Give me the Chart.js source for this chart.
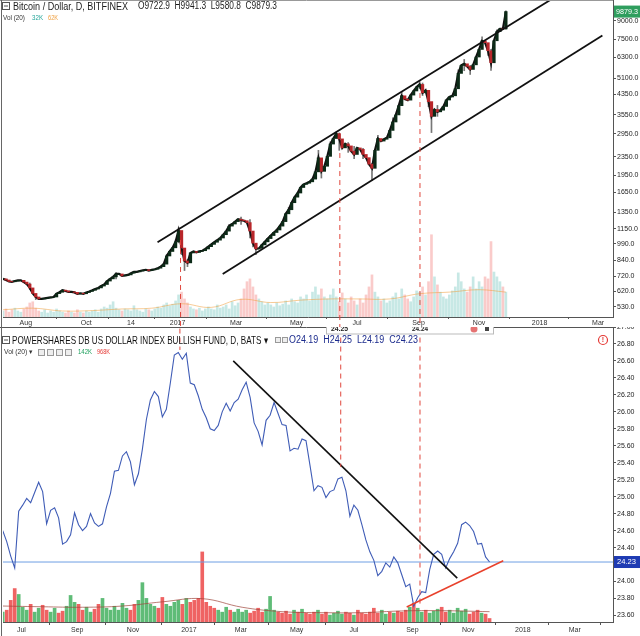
<!DOCTYPE html>
<html><head><meta charset="utf-8">
<script src="https://cdn.jsdelivr.net/npm/chart.js@4.4.1/dist/chart.umd.min.js"></script>
<style>
html,body{margin:0;padding:0;background:#fff;}
#wrap{position:relative;width:640px;height:636px;overflow:hidden;background:#fff;}
#c1{position:absolute;left:0;top:0;}
#c2{position:absolute;left:0;top:327px;}
</style></head><body>
<div id="wrap"><canvas id="c1" width="640" height="327"></canvas><canvas id="c2" width="640" height="309"></canvas></div>
<script>
// ================= DATA: Bitcoin / Dollar (top panel) =================
const btcStartDay = -176;   // days from 2017-01-01 of first sample
const btcStepDays = 3;      // days between samples
const btcClose = [
 700,692,682,680,685,690,690,678,665,640,
 606,585,574,574,577,580,583,585,605,613,
 626,621,615,615,612,603,607,604,612,618,
 625,633,640,652,662,685,700,714,735,735,
 721,725,728,740,750,750,757,762,766,760,
 765,770,778,790,810,878,918,952,1010,1130,
 950,836,820,905,918,910,920,925,941,963,
 985,1006,1027,1049,1084,1123,1180,1205,1234,1264,
 1252,1245,1222,1124,997,942,947,980,1010,1043,
 1075,1108,1136,1180,1234,1333,1388,1488,1572,1638,
 1730,1785,1805,1830,1880,2020,2320,2030,2135,2355,
 2660,2810,2950,2800,2562,2665,2612,2480,2400,2560,
 2525,2400,2325,2180,2092,2500,2810,2740,2790,2830,
 3045,3310,3550,3890,4290,4150,4110,4320,4500,4680,
 4800,4420,4530,4050,3500,3745,3660,3720,3860,4115,
 4240,4290,4600,5355,5800,5890,5740,5570,5830,6300,
 6790,7390,7260,6700,5950,7400,8100,8330,8320,9879.3
];
// [sample index, low, high]
const btcWicks = [
 [9,630,672],[11,570,600],[38,700,745],[55,860,890],[58,990,1030],[59,1000,1160],
 [60,890,1100],[61,760,900],[62,790,850],[76,1150,1200],[80,1200,1290],[83,1050,1260],
 [84,960,1080],[85,890,990],[96,1350,1420],[106,2100,2500],[107,1900,2280],[110,2550,2720],
 [112,2850,3000],[113,2500,2970],[116,2450,2700],[118,2300,2600],[121,2300,2550],[124,1850,2200],
 [126,2600,2900],[131,3150,3450],[134,4050,4450],[140,4600,4950],[141,4300,4870],[143,3850,4250],
 [144,2980,3800],[146,3500,3900],[153,5000,5550],[155,5500,6150],[157,5300,5800],[161,7100,7700],
 [163,6400,7100],[164,5520,6800],[166,7700,8250],[169,8300,9941.3]
];
const btcVolume = [ // thousands
 15,20,12,18,22,15,12,20,25,35,
 38,22,15,12,18,10,15,12,20,15,
 12,10,15,12,10,18,12,10,15,12,
 15,18,12,20,25,22,30,38,22,18,
 15,20,18,15,28,18,15,12,20,18,
 15,20,25,22,30,35,28,32,40,55,
 62,45,35,25,20,18,22,15,20,25,
 20,18,30,22,25,30,20,38,28,35,
 45,70,88,95,75,55,45,38,30,35,
 30,25,35,28,32,40,30,45,38,35,
 50,45,55,40,62,75,55,70,50,45,
 55,70,50,38,60,45,35,50,40,30,
 45,35,55,75,105,62,50,40,45,35,
 40,50,60,45,70,55,45,38,50,65,
 62,75,55,88,205,100,80,62,50,45,
 55,65,75,110,88,70,62,75,100,70,
 88,75,100,95,188,112,100,88,75,62
];
const btcVolumeMA = [[0,18],[10,22],[20,15],[30,16],[40,20],[50,22],[60,33],[70,24],[80,44],[90,36],
 [100,42],[110,45],[120,45],[130,45],[140,58],[150,62],[160,68],[169,62]];
const btcTickDays = [-153,-92,-47,0,59,120,181,243,304,365,424];
const btcTickLabels = ['Aug','Oct','14','2017','Mar','May','Jul','Sep','Nov','2018','Mar'];
const btcPriceTicks = [530,620,720,840,990,1150,1350,1650,1950,2350,2950,3550,4350,5100,6300,7500,9000];
const btcChannelUpper = [[-20.2,1005],[375.8,11080]];
const btcChannelLower = [[45.5,734],[428.3,7797]];
const btcMarkers = [[3,1029],[163.6,2434],[244.4,4409]];

// ================= DATA: PowerShares DB US Dollar Index Bullish (bottom panel) =================
const uupStartT = -140;  // trading days from 2017-01-03 of first sample
const uupStepT = 3;
const uupClose = [
 24.60,24.47,24.30,24.16,24.83,24.90,24.98,24.93,25.05,25.17,
 25.06,24.68,24.84,24.87,24.75,24.44,24.47,24.55,24.81,24.67,
 24.60,24.65,24.80,24.69,24.65,24.68,24.88,25.04,25.30,25.31,
 25.48,25.53,25.41,25.14,25.27,25.56,25.91,26.14,26.24,26.18,
 25.94,26.03,26.34,26.67,26.70,26.62,26.69,26.34,26.32,26.19,
 26.03,25.93,25.80,25.78,25.84,26.00,26.10,26.01,26.11,26.15,
 26.26,26.35,26.17,25.87,25.77,25.61,25.90,25.96,26.11,25.98,
 25.85,25.84,25.54,25.57,25.56,25.68,25.66,25.37,25.07,25.13,
 25.11,24.99,25.06,25.08,25.21,25.23,25.07,24.77,24.90,24.84,
 24.67,24.49,24.35,24.25,24.07,24.12,24.22,24.17,24.29,24.22,
 24.08,23.94,23.97,23.71,23.81,23.88,23.87,24.14,24.32,24.36,
 24.32,24.16,24.27,24.35,24.45,24.67,24.70,24.66,24.59,24.44,
 24.45,24.29,24.23
];
const uupVolume = [ // thousands
 400,480,880,1360,1120,600,480,720,400,560,
 680,480,400,560,360,440,640,1080,800,720,
 480,600,400,520,720,960,560,480,640,480,
 760,560,480,720,880,1600,960,720,640,560,
 1000,720,640,800,880,720,960,800,880,960,
 2850,800,640,560,480,400,600,480,400,520,
 400,480,360,440,560,400,520,1040,480,400,
 360,440,320,480,400,520,360,320,400,480,
 320,400,280,360,440,320,400,360,280,480,
 360,320,400,560,360,480,320,400,360,440,
 400,480,600,760,560,400,480,360,440,520,
 600,400,480,360,560,440,520,320,400,480,
 360,320,142
];
const uupVolumeMA = [[0,650],[10,620],[20,600],[30,650],[40,820],[50,950],[60,600],[70,420],[80,380],[90,380],[100,450],[110,460],[122,420]];
const uupTickT = [-126,-84,-42,0,39,81,124,168,210,251,290];
const uupTickLabels = ['Jul','Sep','Nov','2017','Mar','May','Jul','Sep','Nov','2018','Mar'];
const uupPriceTicks = [23.6,23.8,24.0,24.2,24.4,24.6,24.8,25.0,25.2,25.4,25.6,25.8,26.0,26.2,26.4,26.6,26.8,27.0];
const uupLast = 24.23;
const uupTrendDown = [[33.3,26.60],[201.7,24.04]];
const uupTrendUp = [[163.7,23.70],[236.3,24.245]];
const uupMarkers = [[-6.8,26.73],[114.1,25.35],[173.7,23.70]];

// ================= RENDERING =================
const FONT = "'Liberation Sans', Arial, sans-serif";
Chart.defaults.font.family = FONT;
Chart.defaults.color = '#222';

function fitText(ctx, txt, x, y, w, font, color) {
  ctx.save();
  ctx.font = font; ctx.fillStyle = color; ctx.textBaseline = 'middle'; ctx.textAlign = 'left';
  const m = ctx.measureText(txt).width || 1;
  ctx.translate(x, y); ctx.scale(w / m, 1);
  ctx.fillText(txt, 0, 0);
  ctx.restore();
}
function minusBox(ctx, x, y, s) {
  ctx.save(); ctx.strokeStyle = '#555'; ctx.lineWidth = 1;
  ctx.strokeRect(x + 0.5, y + 0.5, s, s);
  ctx.beginPath(); ctx.moveTo(x + 2, y + 0.5 + s / 2); ctx.lineTo(x + s - 1, y + 0.5 + s / 2); ctx.stroke();
  ctx.restore();
}
function smallBox(ctx, x, y, s) {
  ctx.save(); ctx.strokeStyle = '#999'; ctx.lineWidth = 1; ctx.fillStyle = '#eee';
  ctx.fillRect(x + 0.5, y + 0.5, s, s); ctx.strokeRect(x + 0.5, y + 0.5, s, s); ctx.restore();
}
const pts = arr => arr.map(p => ({x: p[0], y: p[1]}));

// ---- top panel datasets
const btcDays = btcClose.map((_, i) => btcStartDay + i * btcStepDays);
const btcUp = btcClose.map((c, i) => i === 0 || c >= btcClose[i - 1]);
const btcBodies = btcClose.map((c, i) => ({x: btcDays[i], y: [i ? btcClose[i - 1] : c, c]}));
const btcWickData = btcWicks.map(w => ({x: btcDays[w[0]], y: [w[1], w[2]]}));
const btcVolData = btcVolume.map((v, i) => ({x: btcDays[i], y: v}));
const btcVolMAData = btcVolumeMA.map(p => ({x: btcDays[p[0]], y: p[1]}));
const btcMin = 479.8, btcMax = 11080, btcBelow = 430;

const dashStyle = {type: 'line', borderColor: '#e0473d', borderWidth: 1, borderDash: [5, 4], pointRadius: 0, clip: false, order: 2};

const topPlugin = {
  id: 'topDecor',
  afterDraw(chart) {
    const ctx = chart.ctx;
    ctx.save();
    ctx.strokeStyle = '#999'; ctx.lineWidth = 1;
    ctx.beginPath(); ctx.moveTo(0, 0.5); ctx.lineTo(613, 0.5); ctx.stroke();
    ctx.strokeStyle = '#666';
    ctx.beginPath(); ctx.moveTo(1.5, 0); ctx.lineTo(1.5, 327); ctx.stroke();
    ctx.restore();
    minusBox(ctx, 2, 2, 7);
    fitText(ctx, 'Bitcoin / Dollar, D, BITFINEX', 13, 6.5, 115, '11px ' + FONT, '#1c1c1c');
    fitText(ctx, 'O9722.9  H9941.3  L9580.8  C9879.3', 138, 6.5, 139, '10px ' + FONT, '#1c1c1c');
    fitText(ctx, 'Vol (20)', 3, 18.5, 22, '7px ' + FONT, '#333');
    fitText(ctx, '32K', 32, 18.5, 11, '7px ' + FONT, '#26a69a');
    fitText(ctx, '62K', 48, 18.5, 10, '7px ' + FONT, '#f0a040');
    const ys = chart.scales.y;
    const py = ys.getPixelForValue(btcClose[btcClose.length - 1]);
    ctx.save();
    ctx.fillStyle = '#2f9e5e'; ctx.fillRect(614, py - 6, 26, 12);
    ctx.restore();
    fitText(ctx, btcClose[btcClose.length - 1].toFixed(1), 616, py + 0.5, 22, '7px ' + FONT, '#fff');
  }
};

new Chart(document.getElementById('c1'), {
  type: 'line',
  data: {
    datasets: [
      {type: 'bar', data: btcVolData, yAxisID: 'yv', grouped: false, barThickness: 2,
       backgroundColor: btcUp.map(u => u ? 'rgba(38,166,154,0.26)' : 'rgba(239,83,80,0.30)'), order: 10},
      {type: 'line', data: btcVolMAData, yAxisID: 'yv', borderColor: 'rgba(240,160,64,0.55)', borderWidth: 1,
       pointRadius: 0, tension: 0.4, order: 9},
      {type: 'bar', data: btcWickData, yAxisID: 'y', grouped: false, barThickness: 1, backgroundColor: '#777', order: 6},
      {type: 'line', data: btcBodies.map(b => ({x: b.x, y: b.y[1]})), yAxisID: 'y', borderColor: '#111',
       borderWidth: 2.2, pointRadius: 0, tension: 0, order: 5},
      {type: 'bar', data: btcBodies, yAxisID: 'y', grouped: false, barThickness: 2.6, borderSkipped: false,
       backgroundColor: btcUp.map(u => u ? '#0c2a17' : '#b8262a'), order: 4},
      {type: 'line', data: pts(btcChannelUpper), yAxisID: 'y', borderColor: '#111', borderWidth: 1.8, pointRadius: 0, order: 3},
      {type: 'line', data: pts(btcChannelLower), yAxisID: 'y', borderColor: '#111', borderWidth: 1.8, pointRadius: 0, order: 3},
      ...btcMarkers.map(m => Object.assign({}, dashStyle, {yAxisID: 'y', data: [{x: m[0], y: m[1]}, {x: m[0], y: btcBelow}]}))
    ]
  },
  options: {
    responsive: false, animation: false, devicePixelRatio: 1,
    layout: {padding: {left: 3, right: 0, top: 0, bottom: 0}},
    plugins: {legend: {display: false}, tooltip: {enabled: false}},
    scales: {
      x: {type: 'linear', min: -176, max: 439, offset: false,
        afterBuildTicks: s => { s.ticks = btcTickDays.map(v => ({value: v})); },
        afterFit: s => { s.height = 10; s.paddingLeft = 0; s.paddingRight = 0; },
        ticks: {autoSkip: false, maxRotation: 0, padding: 0, font: {size: 7}, color: '#333',
          callback: v => { const k = btcTickDays.indexOf(v); return k >= 0 ? btcTickLabels[k] : ''; }},
        grid: {drawOnChartArea: false, drawTicks: true, tickLength: 2, color: '#555'},
        border: {display: true, color: '#555', width: 1}},
      y: {type: 'logarithmic', position: 'right', min: btcMin, max: btcMax,
        afterBuildTicks: s => { s.ticks = btcPriceTicks.map(v => ({value: v})); },
        afterFit: s => { s.width = 27; s.paddingTop = 0; s.paddingBottom = 0; },
        ticks: {autoSkip: false, padding: 1, font: {size: 7}, color: '#222', callback: v => Number(v).toFixed(1)},
        grid: {drawOnChartArea: false, drawTicks: true, tickLength: 3, color: '#555'},
        border: {display: true, color: '#555', width: 1}},
      yv: {type: 'linear', display: false, min: 0, max: 790}
    }
  },
  plugins: [topPlugin]
});

// ---- bottom panel datasets
const uupT = uupClose.map((_, j) => uupStartT + j * uupStepT);
const uupUp = uupClose.map((c, j) => j === 0 || c >= uupClose[j - 1]);
const uupLineData = uupClose.map((c, j) => ({x: uupT[j], y: c}));
const uupVolData = uupVolume.map((v, j) => ({x: uupT[j], y: v}));
const uupVolMAData = uupVolumeMA.map(p => ({x: uupT[p[0]], y: p[1]}));
const uupXMin = -139.8, uupXMax = 318.8, uupYMin = 23.523, uupYMax = 27.0;

const botPlugin = {
  id: 'botDecor',
  afterDraw(chart) {
    const ctx = chart.ctx;
    ctx.save();
    ctx.strokeStyle = '#555'; ctx.lineWidth = 1;
    ctx.beginPath(); ctx.moveTo(0, 0.5); ctx.lineTo(613, 0.5); ctx.stroke();
    ctx.strokeStyle = '#666';
    ctx.beginPath(); ctx.moveTo(1.5, 0); ctx.lineTo(1.5, 309); ctx.stroke();
    ctx.restore();
    // floating data box
    ctx.save();
    ctx.fillStyle = '#fff'; ctx.fillRect(326, 0, 167, 7);
    ctx.strokeStyle = '#bbb'; ctx.lineWidth = 1; ctx.strokeRect(326.5, -2, 167, 9);
    ctx.restore();
    fitText(ctx, '24.25', 331, 2, 17, 'bold 8px ' + FONT, '#222');
    fitText(ctx, '24.24', 412, 2, 16, 'bold 8px ' + FONT, '#222');
    ctx.save();
    ctx.fillStyle = '#e57373'; ctx.beginPath(); ctx.arc(474, 2, 3.5, 0, Math.PI * 2); ctx.fill();
    ctx.fillStyle = '#444'; ctx.fillRect(485, 0, 4, 4);
    ctx.restore();
    // header
    minusBox(ctx, 2, 9, 7);
    fitText(ctx, 'POWERSHARES DB US DOLLAR INDEX BULLISH FUND, D, BATS \u25BE', 12, 13.5, 256, '11px ' + FONT, '#111');
    smallBox(ctx, 275, 10, 5); smallBox(ctx, 282, 10, 5);
    fitText(ctx, 'O24.19  H24.25  L24.19  C24.23', 289, 13.5, 129, '10px ' + FONT, '#1a2a8c');
    fitText(ctx, 'Vol (20) \u25BE', 4, 25.5, 29, '7px ' + FONT, '#333');
    smallBox(ctx, 38, 22, 6); smallBox(ctx, 47, 22, 6); smallBox(ctx, 56, 22, 6); smallBox(ctx, 65, 22, 6);
    fitText(ctx, '142K', 78, 25.5, 14, '7px ' + FONT, '#1b9e5a');
    fitText(ctx, '968K', 97, 25.5, 13, '7px ' + FONT, '#e53935');
    // alert icon
    ctx.save();
    ctx.strokeStyle = '#e53935'; ctx.lineWidth = 1.2;
    ctx.beginPath(); ctx.arc(603, 13, 4.5, 0, Math.PI * 2); ctx.stroke();
    ctx.fillStyle = '#e53935'; ctx.font = 'bold 7px ' + FONT; ctx.textAlign = 'center'; ctx.textBaseline = 'middle';
    ctx.fillText('!', 603, 13.5);
    ctx.restore();
    // last value box
    const py = chart.scales.y.getPixelForValue(uupLast);
    ctx.save(); ctx.fillStyle = '#1e3bb3'; ctx.fillRect(614, py - 6, 26, 12); ctx.restore();
    fitText(ctx, uupLast.toFixed(2), 617, py + 0.5, 19, '7px ' + FONT, '#fff');
  }
};

new Chart(document.getElementById('c2'), {
  type: 'line',
  data: {
    datasets: [
      {type: 'bar', data: uupVolData, yAxisID: 'yv', grouped: false, barThickness: 3,
       backgroundColor: uupUp.map(u => u ? 'rgba(67,176,95,0.85)' : 'rgba(236,72,72,0.85)'), order: 10},
      {type: 'line', data: uupVolMAData, yAxisID: 'yv', borderColor: 'rgba(160,70,60,0.7)', borderWidth: 1,
       pointRadius: 0, tension: 0.4, order: 9},
      {type: 'line', data: [{x: uupXMin, y: uupLast}, {x: uupXMax, y: uupLast}], yAxisID: 'y',
       borderColor: '#6e9fe3', borderWidth: 1, pointRadius: 0, order: 7},
      {type: 'line', data: uupLineData, yAxisID: 'y', borderColor: '#3f5cb6', borderWidth: 1.1,
       pointRadius: 0, tension: 0, order: 5},
      {type: 'line', data: pts(uupTrendDown), yAxisID: 'y', borderColor: '#111', borderWidth: 1.6, pointRadius: 0, order: 3},
      {type: 'line', data: pts(uupTrendUp), yAxisID: 'y', borderColor: '#e8412c', borderWidth: 1.5, pointRadius: 0, order: 3},
      ...uupMarkers.map(m => Object.assign({}, dashStyle, {yAxisID: 'y', data: [{x: m[0], y: 27.3}, {x: m[0], y: m[1]}]}))
    ]
  },
  options: {
    responsive: false, animation: false, devicePixelRatio: 1,
    layout: {padding: {left: 3, right: 0, top: 0, bottom: 0}},
    plugins: {legend: {display: false}, tooltip: {enabled: false}},
    scales: {
      x: {type: 'linear', min: uupXMin, max: uupXMax, offset: false,
        afterBuildTicks: s => { s.ticks = uupTickT.map(v => ({value: v})); },
        afterFit: s => { s.height = 14; s.paddingLeft = 0; s.paddingRight = 0; },
        ticks: {autoSkip: false, maxRotation: 0, padding: 1, font: {size: 7}, color: '#333',
          callback: v => { const k = uupTickT.indexOf(v); return k >= 0 ? uupTickLabels[k] : ''; }},
        grid: {drawOnChartArea: false, drawTicks: true, tickLength: 3, color: '#555'},
        border: {display: true, color: '#555', width: 1}},
      y: {type: 'linear', position: 'right', min: uupYMin, max: uupYMax,
        afterBuildTicks: s => { s.ticks = uupPriceTicks.map(v => ({value: v})); },
        afterFit: s => { s.width = 27; s.paddingTop = 0; s.paddingBottom = 0; },
        ticks: {autoSkip: false, padding: 1, font: {size: 7}, color: '#222', callback: v => Number(v).toFixed(2)},
        grid: {drawOnChartArea: false, drawTicks: true, tickLength: 3, color: '#555'},
        border: {display: true, color: '#555', width: 1}},
      yv: {type: 'linear', display: false, min: 0, max: 12000}
    }
  },
  plugins: [botPlugin]
});
</script></body></html>
